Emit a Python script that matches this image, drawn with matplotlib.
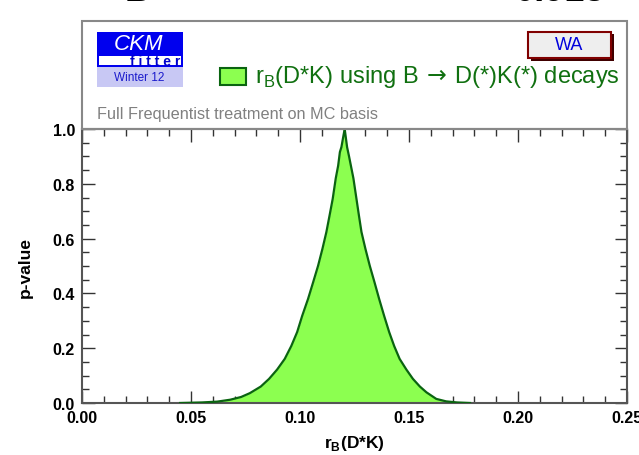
import matplotlib
matplotlib.use("Agg")
import matplotlib.pyplot as plt
from matplotlib.patches import Rectangle
from matplotlib.ticker import MultipleLocator, FormatStrFormatter

plt.rcParams['font.family'] = ['Liberation Sans', 'DejaVu Sans']

# p-value profile of r_B(D*K)
rb = [0.045, 0.055, 0.062, 0.068, 0.073, 0.077, 0.082, 0.0858, 0.0895, 0.093,
      0.096, 0.0987, 0.101, 0.1037, 0.106, 0.1083, 0.1103, 0.1121, 0.1136, 0.1150,
      0.1164, 0.1175, 0.1183, 0.1190, 0.1198, 0.1205, 0.1210, 0.1216, 0.1225, 0.1245,
      0.1259, 0.1270, 0.1282, 0.1300, 0.1320, 0.1342, 0.1363, 0.1386, 0.1409, 0.1432,
      0.1457, 0.1488, 0.1518, 0.1550, 0.1580, 0.1625, 0.1670, 0.1720, 0.1780]
pval = [0.000, 0.002, 0.005, 0.012, 0.022, 0.036, 0.060, 0.088, 0.122, 0.161,
        0.208, 0.259, 0.318, 0.380, 0.440, 0.501, 0.563, 0.624, 0.686, 0.745,
        0.820, 0.866, 0.916, 0.934, 0.970, 1.000, 0.970, 0.934, 0.900, 0.820,
        0.745, 0.686, 0.624, 0.563, 0.501, 0.440, 0.380, 0.318, 0.259, 0.208,
        0.161, 0.122, 0.088, 0.060, 0.039, 0.015, 0.006, 0.002, 0.000]

xlim = (0.0, 0.25)
ylim = (0.0, 1.0)

W, H = 639, 456
fig = plt.figure(figsize=(W / 100, H / 100), dpi=100)

def fx(px):
    return px / W

def fy(py):
    return 1 - py / H

L, R, T, B = 82, 627, 130, 404
ax = fig.add_axes([fx(L), fy(B), (R - L) / W, (B - T) / H])

fill_c = '#8cff50'
edge_c = '#0a6410'
ax.fill_between(rb, pval, 0, color=fill_c, lw=0, zorder=2)
ax.plot(rb, pval, color=edge_c, lw=1.6, zorder=3)

ax.set_xlim(*xlim)
ax.set_ylim(*ylim)
ax.xaxis.set_major_locator(MultipleLocator(0.05))
ax.xaxis.set_minor_locator(MultipleLocator(0.01))
ax.yaxis.set_major_locator(MultipleLocator(0.2))
ax.yaxis.set_minor_locator(MultipleLocator(0.05))
ax.xaxis.set_major_formatter(FormatStrFormatter('%.2f'))
ax.yaxis.set_major_formatter(FormatStrFormatter('%.1f'))
ax.tick_params(which='both', direction='in', top=True, right=True, color='#333333')
ax.tick_params(which='major', length=9, width=1.0, labelsize=11.5, pad=5)
ax.tick_params(which='minor', length=5, width=1.0)
for lab in ax.get_xticklabels() + ax.get_yticklabels():
    lab.set_fontweight('bold')
for s in ax.spines.values():
    s.set_color('#555555')
    s.set_linewidth(1.5)

ax.set_xlabel(r'r$_{\mathregular{B}}$(D*K)', fontsize=12.5, fontweight='bold', labelpad=6)
ax.set_ylabel('p-value', fontsize=12.5, fontweight='bold', labelpad=14)

# header panel
fig.patches.append(Rectangle((fx(L), fy(T)), (R - L) / W, (T - 22) / H,
                             transform=fig.transFigure, fill=False,
                             ec='#888888', lw=1.5, zorder=1))

# logo
fig.patches.append(Rectangle((fx(97), fy(68)), 86 / W, 35 / H, transform=fig.transFigure,
                             fc='#0000ee', ec='none'))
fig.patches.append(Rectangle((fx(99), fy(66)), 82 / W, 9 / H, transform=fig.transFigure,
                             fc='white', ec='none'))
fig.patches.append(Rectangle((fx(97), fy(88)), 86 / W, 20 / H, transform=fig.transFigure,
                             fc='#c8c8f4', ec='none'))
fig.text(fx(139), fy(44), 'CKM', color='white', fontsize=16, style='italic',
         ha='center', va='center')
fig.text(fx(180), fy(62), 'f i t t e r', color='#0000cc', fontsize=10,
         fontweight='bold', ha='right', va='center')
fig.text(fx(139), fy(78), 'Winter 12', color='#1a1acc', fontsize=8.5,
         ha='center', va='center')

# WA badge
fig.patches.append(Rectangle((fx(531), fy(62)), 83 / W, 27 / H, transform=fig.transFigure,
                             fc='#400000', ec='none'))
fig.patches.append(Rectangle((fx(528), fy(59)), 83 / W, 26 / H, transform=fig.transFigure,
                             fc='#eeeeee', ec='#800000', lw=1.5))
fig.text(fx(569.5), fy(46), 'WA', color='#0000dd', fontsize=13, ha='center', va='center')

# legend entry
fig.patches.append(Rectangle((fx(220), fy(86)), 26 / W, 17 / H, transform=fig.transFigure,
                             fc=fill_c, ec=edge_c, lw=1.5))
fig.text(fx(255), fy(77), r'r$_{\mathregular{B}}$(D*K) using B$\,\rightarrow\,$D(*)K(*) decays',
         color='#107010', fontsize=17, ha='left', va='center')

fig.text(fx(97), fy(115), 'Full Frequentist treatment on MC basis', color='#808080',
         fontsize=11.7, ha='left', va='center')

# title fragments clipped at the top edge
fig.text(fx(138), fy(1), 'B', fontsize=26, fontweight='bold', ha='center', va='baseline')
fig.text(fx(560), fy(1), '0.913', fontsize=26, fontweight='bold', ha='center', va='baseline')

fig.savefig('out.png', dpi=100)
